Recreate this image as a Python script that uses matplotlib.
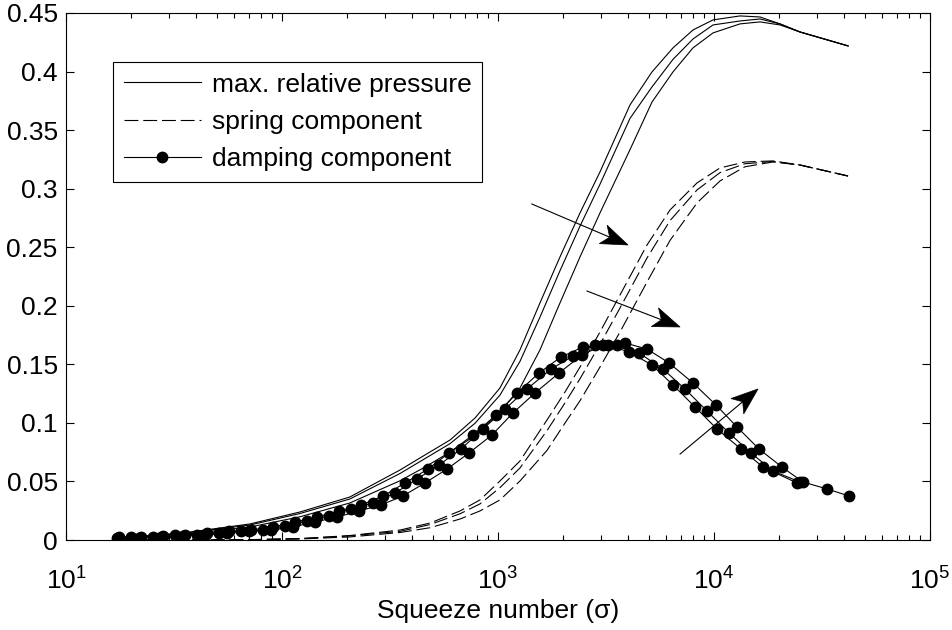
import math
import numpy as np
import matplotlib
matplotlib.use("Agg")
import matplotlib.pyplot as plt
from matplotlib.patches import Polygon
from matplotlib.ticker import LogLocator, NullFormatter, FuncFormatter, MultipleLocator

plt.rcParams['font.family'] = ['Liberation Sans', 'DejaVu Sans']
plt.rcParams['mathtext.fontset'] = 'custom'
plt.rcParams['mathtext.rm'] = 'Liberation Sans'
plt.rcParams['mathtext.it'] = 'Liberation Sans:italic'
plt.rcParams['lines.scale_dashes'] = False

FS = 19

# === max. relative pressure (three solid curves, same sigma grid) ===
sigma_p = [17.2, 34.8, 71.1, 121, 206, 352, 459, 600, 783, 1021, 1264, 1564, 1936,
           2397, 2966, 4084, 5164, 6459, 7992, 9895, 13194, 16331, 20212, 25008, 41736]
pressure_1 = [0.0017, 0.0060, 0.0137, 0.0239, 0.0367, 0.0598, 0.0726, 0.0854, 0.1042, 0.1298,
              0.1623, 0.2024, 0.2417, 0.2793, 0.3143, 0.3715, 0.3997, 0.4202, 0.4355, 0.4441,
              0.4475, 0.4466, 0.4407, 0.4338, 0.4219]
pressure_2 = [0.0013, 0.0056, 0.0128, 0.0226, 0.0350, 0.0568, 0.0695, 0.0823, 0.0997, 0.1237,
              0.1525, 0.1903, 0.2299, 0.2680, 0.3038, 0.3600, 0.3869, 0.4104, 0.4278, 0.4398,
              0.4432, 0.4449, 0.4407, 0.4338, 0.4219]
pressure_3 = [0.0009, 0.0047, 0.0111, 0.0198, 0.0316, 0.0506, 0.0623, 0.0751, 0.0892, 0.1093,
              0.1298, 0.1623, 0.2024, 0.2417, 0.2793, 0.3333, 0.3740, 0.3997, 0.4202, 0.4330,
              0.4407, 0.4424, 0.4398, 0.4338, 0.4219]

# === spring component (dashed) ===
sigma_s = [17.2, 41.7, 71.1, 121, 206, 352, 485, 667, 825, 1021, 1264, 1686, 2043,
           2397, 2966, 3671, 4896, 6256, 8342, 10662, 13914, 18755, 25008, 41736]
spring_1 = [0, 0, 0.0003, 0.0012, 0.0038, 0.0085, 0.0145, 0.0248, 0.0342, 0.0504, 0.0675, 0.1025,
            0.1264, 0.1477, 0.1776, 0.2092, 0.2519, 0.2818, 0.3049, 0.3177, 0.3228, 0.3237,
            0.3202, 0.3108]
spring_2 = [0, 0, 0.0003, 0.0011, 0.0035, 0.0074, 0.0132, 0.0224, 0.0308, 0.0447, 0.0615, 0.0934,
            0.1171, 0.1377, 0.1671, 0.1981, 0.2408, 0.2727, 0.2989, 0.3137, 0.3213, 0.3232,
            0.3202, 0.3108]
spring_3 = [0, 0, 0.0002, 0.0009, 0.0026, 0.0064, 0.0105, 0.0179, 0.0248, 0.0342, 0.0504, 0.0765,
            0.0999, 0.1189, 0.1477, 0.1776, 0.2203, 0.2558, 0.2878, 0.3066, 0.3187, 0.3228,
            0.3202, 0.3108]

# === damping component (dots) ===
sigma_d1 = [17.6, 22.2, 28.1, 35.6, 44.9, 56.8, 71.9, 90.9, 115, 145, 184, 232, 294, 371, 474,
            593, 766, 979, 1225, 1548, 1957, 2475, 3231, 4042, 5164, 6459, 8166, 10325, 13335,
            16865, 24226]
damping_1 = [0.0026, 0.0026, 0.0038, 0.0043, 0.0056, 0.0073, 0.0085, 0.0111, 0.0154, 0.0196,
             0.0248, 0.0299, 0.0376, 0.0487, 0.0606, 0.0743, 0.0897, 0.1067, 0.1255, 0.1426,
             0.1563, 0.1648, 0.1665, 0.1605, 0.1494, 0.1324, 0.1136, 0.0948, 0.0777, 0.0623,
             0.0487]
sigma_d2 = [20.0, 25.3, 32.0, 40.4, 51.1, 64.6, 81.7, 103, 131, 165, 209, 264, 334, 422, 533,
            674, 852, 1078, 1362, 1760, 2225, 2812, 3556, 4496, 5806, 7340, 9282, 11731, 14834,
            18755, 25008]
damping_2 = [0.0026, 0.0026, 0.0043, 0.0043, 0.0060, 0.0077, 0.0085, 0.0120, 0.0162, 0.0205,
             0.0265, 0.0316, 0.0401, 0.0521, 0.0640, 0.0777, 0.0948, 0.1119, 0.1289, 0.1460,
             0.1571, 0.1665, 0.1665, 0.1597, 0.1460, 0.1289, 0.1102, 0.0914, 0.0743, 0.0589,
             0.0495]
sigma_d3 = [17.2, 21.8, 27.5, 34.8, 44.0, 55.6, 70.4, 88.9, 112, 142, 180, 227, 287, 363, 459,
            581, 734, 938, 1173, 1483, 1916, 2449, 3063, 3873, 4896, 6191, 7992, 10215, 12780,
            16155, 20642, 25823, 33360, 42170]
damping_3 = [0.0017, 0.0021, 0.0026, 0.0038, 0.0043, 0.0056, 0.0073, 0.0085, 0.0111, 0.0154,
             0.0196, 0.0248, 0.0299, 0.0376, 0.0487, 0.0606, 0.0743, 0.0897, 0.1085, 0.1255,
             0.1426, 0.1580, 0.1665, 0.1682, 0.1631, 0.1512, 0.1341, 0.1153, 0.0965, 0.0777,
             0.0623, 0.0495, 0.0436, 0.0376]

# === arrows: (sigma_start, y_start, sigma_tip, y_tip) ===
arrows = [(1435, 0.2869, 4000, 0.2519),
          (2582, 0.2126, 6966, 0.1819),
          (6966, 0.0734, 15995, 0.1290)]

fig = plt.figure(figsize=(9.52, 6.3), dpi=100)
ax = fig.add_axes([66 / 952, 1 - 540 / 630, 864 / 952, 527 / 630])

lw = 0.8
MS = 7.5
for y in (pressure_1, pressure_2, pressure_3):
    ax.plot(sigma_p, y, color='k', lw=lw)
for y in (spring_1, spring_2, spring_3):
    ax.plot(sigma_s, y, color='k', lw=lw, dashes=(10, 3.5))
for s, y in ((sigma_d1, damping_1), (sigma_d2, damping_2), (sigma_d3, damping_3)):
    ax.plot(s, y, color='k', lw=lw, marker='o', ms=MS)

ax.set_xscale('log')
ax.set_xlim(10, 1e5)
ax.set_ylim(0, 0.45)

# arrows with swept-back (matlab-like) heads, built in pixel space
L_HEAD, W_HEAD, NOTCH = 27, 10, 20
for x0, y0, x1, y1 in arrows:
    p0 = ax.transData.transform((x0, y0))
    p1 = ax.transData.transform((x1, y1))
    d = (p1 - p0) / np.hypot(*(p1 - p0))
    n = np.array([-d[1], d[0]])
    head = [p1, p1 - L_HEAD * d + W_HEAD * n, p1 - NOTCH * d, p1 - L_HEAD * d - W_HEAD * n]
    head_data = ax.transData.inverted().transform(head)
    ax.add_patch(Polygon(head_data, closed=True, facecolor='k', edgecolor='k', lw=0.5))
    notch = ax.transData.inverted().transform(p1 - NOTCH * d)
    ax.plot([x0, notch[0]], [y0, notch[1]], color='k', lw=lw)

ax.yaxis.set_major_locator(MultipleLocator(0.05))
ax.yaxis.set_major_formatter(FuncFormatter(lambda v, p: '%g' % round(v, 2)))
ax.xaxis.set_major_locator(LogLocator(base=10, numticks=10))
ax.xaxis.set_minor_locator(LogLocator(base=10, subs=range(2, 10), numticks=20))
ax.xaxis.set_minor_formatter(NullFormatter())
ax.xaxis.set_major_formatter(FuncFormatter(lambda v, p: r'$10^{%d}$' % round(math.log10(v))))

ax.tick_params(which='both', direction='in', top=True, right=True, labelsize=FS, width=0.8)
ax.tick_params(which='major', length=6)
ax.tick_params(which='minor', length=3.5)
ax.tick_params(axis='y', which='major', pad=6)
ax.tick_params(axis='x', which='major', pad=20)
for sp in ax.spines.values():
    sp.set_linewidth(0.8)

ax.set_xlabel('Squeeze number (σ)', fontsize=FS, labelpad=3)

h1, = ax.plot([], [], color='k', lw=lw, label='max. relative pressure')
h2, = ax.plot([], [], color='k', lw=lw, dashes=(10, 3.5), label='spring component')
h3, = ax.plot([], [], color='k', lw=lw, marker='o', ms=MS, label='damping component')
leg = ax.legend(handles=[h1, h2, h3], loc='upper left', bbox_to_anchor=(0.0544, 0.907),
                fontsize=FS, frameon=True, fancybox=False, edgecolor='k', framealpha=1,
                handlelength=2.95, handletextpad=0.4, labelspacing=0.5, borderpad=0.4,
                borderaxespad=0, numpoints=1)
leg.get_frame().set_linewidth(0.8)

fig.savefig('out.png', dpi=100)
